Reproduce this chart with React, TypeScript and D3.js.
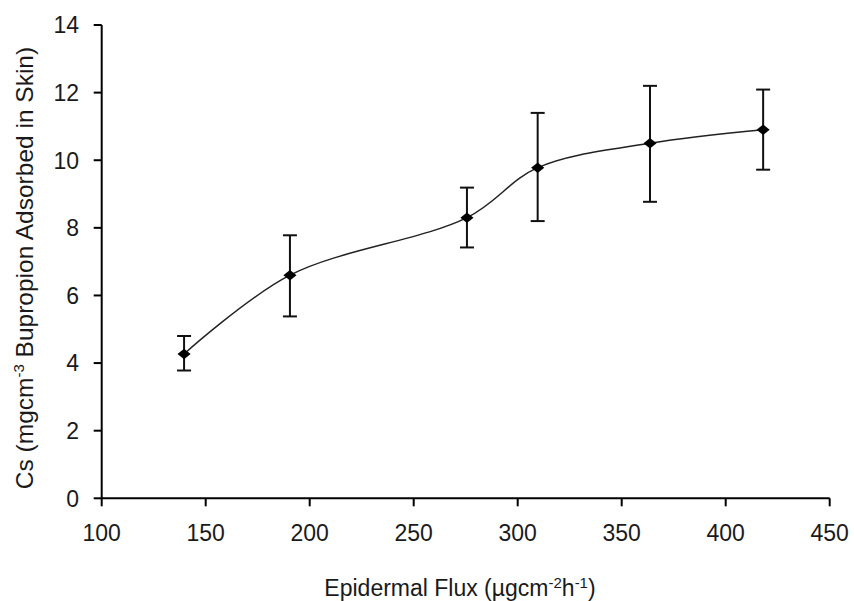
import React from "react";
import * as d3 from "d3";

const fluxValues = [139.6, 190.5, 275.6, 309.6, 363.6, 418];
const csValues = [4.27, 6.6, 8.3, 9.78, 10.5, 10.9];
const errLow = [3.78, 5.38, 7.42, 8.2, 8.77, 9.72];
const errHigh = [4.8, 7.78, 9.19, 11.4, 12.2, 12.09];
const xTicks = [100, 150, 200, 250, 300, 350, 400, 450];
const yTicks = [0, 2, 4, 6, 8, 10, 12, 14];

const W = 854;
const H = 601;
const left = 101.7;
const right = 829.7;
const top = 25;
const bottom = 498.3;

export default function App() {
  const x = d3.scaleLinear().domain([100, 450]).range([left, right]);
  const y = d3.scaleLinear().domain([0, 14]).range([bottom, top]);
  const pts = fluxValues.map((f, i) => [x(f), y(csValues[i])] as [number, number]);
  const line = d3.line().curve(d3.curveCatmullRom.alpha(0.5))(pts) || "";
  const font = "Arial, 'Liberation Sans', sans-serif";
  const cap = 7;
  const diamond = d3.symbol().type(d3.symbolDiamond2).size(110)() || "";
  return (
    <svg width={W} height={H} style={{ position: "absolute", left: 0, top: 0, background: "#fff" }} fontFamily={font}>
      <rect width={W} height={H} fill="#fff" />
      {/* axes */}
      <line x1={left} x2={left} y1={top} y2={bottom} stroke="#000" strokeWidth={2} />
      <line x1={left} x2={right} y1={bottom} y2={bottom} stroke="#000" strokeWidth={2} />
      {yTicks.map((t) => (
        <g key={"y" + t}>
          <line x1={left - 8} x2={left} y1={y(t)} y2={y(t)} stroke="#000" strokeWidth={2} />
          <text x={79} y={y(t)} dy="0.36em" textAnchor="end" fontSize={23} fill="#1a1a1a">{t}</text>
        </g>
      ))}
      {xTicks.map((t) => (
        <g key={"x" + t}>
          <line x1={x(t)} x2={x(t)} y1={bottom} y2={bottom + 8} stroke="#000" strokeWidth={2} />
          <text x={x(t)} y={541} textAnchor="middle" fontSize={23} fill="#1a1a1a">{t}</text>
        </g>
      ))}
      {/* line */}
      <path d={line} fill="none" stroke="#222" strokeWidth={1.5} />
      {/* error bars */}
      {fluxValues.map((f, i) => (
        <g key={"e" + i} stroke="#111" strokeWidth={2}>
          <line x1={x(f)} x2={x(f)} y1={y(errLow[i])} y2={y(errHigh[i])} />
          <line x1={x(f) - cap} x2={x(f) + cap} y1={y(errLow[i])} y2={y(errLow[i])} />
          <line x1={x(f) - cap} x2={x(f) + cap} y1={y(errHigh[i])} y2={y(errHigh[i])} />
        </g>
      ))}
      {pts.map((p, i) => (
        <path key={"m" + i} d={diamond} transform={`translate(${p[0]},${p[1]}) scale(1,0.8)`} fill="#000" />
      ))}
      {/* titles */}
      <text x={460} y={596} textAnchor="middle" fontSize={23} fill="#1a1a1a">
        Epidermal Flux (µgcm<tspan dy="-8" fontSize={15}>-2</tspan><tspan dy="8">h</tspan><tspan dy="-8" fontSize={15}>-1</tspan><tspan dy="8">)</tspan>
      </text>
      <text transform={`translate(33,268) rotate(-90)`} textAnchor="middle" fontSize={24.5} fill="#1a1a1a">
        Cs (mgcm<tspan dy="-9" fontSize={15}>-3</tspan><tspan dy="9"> Bupropion Adsorbed in Skin)</tspan>
      </text>
    </svg>
  );
}
